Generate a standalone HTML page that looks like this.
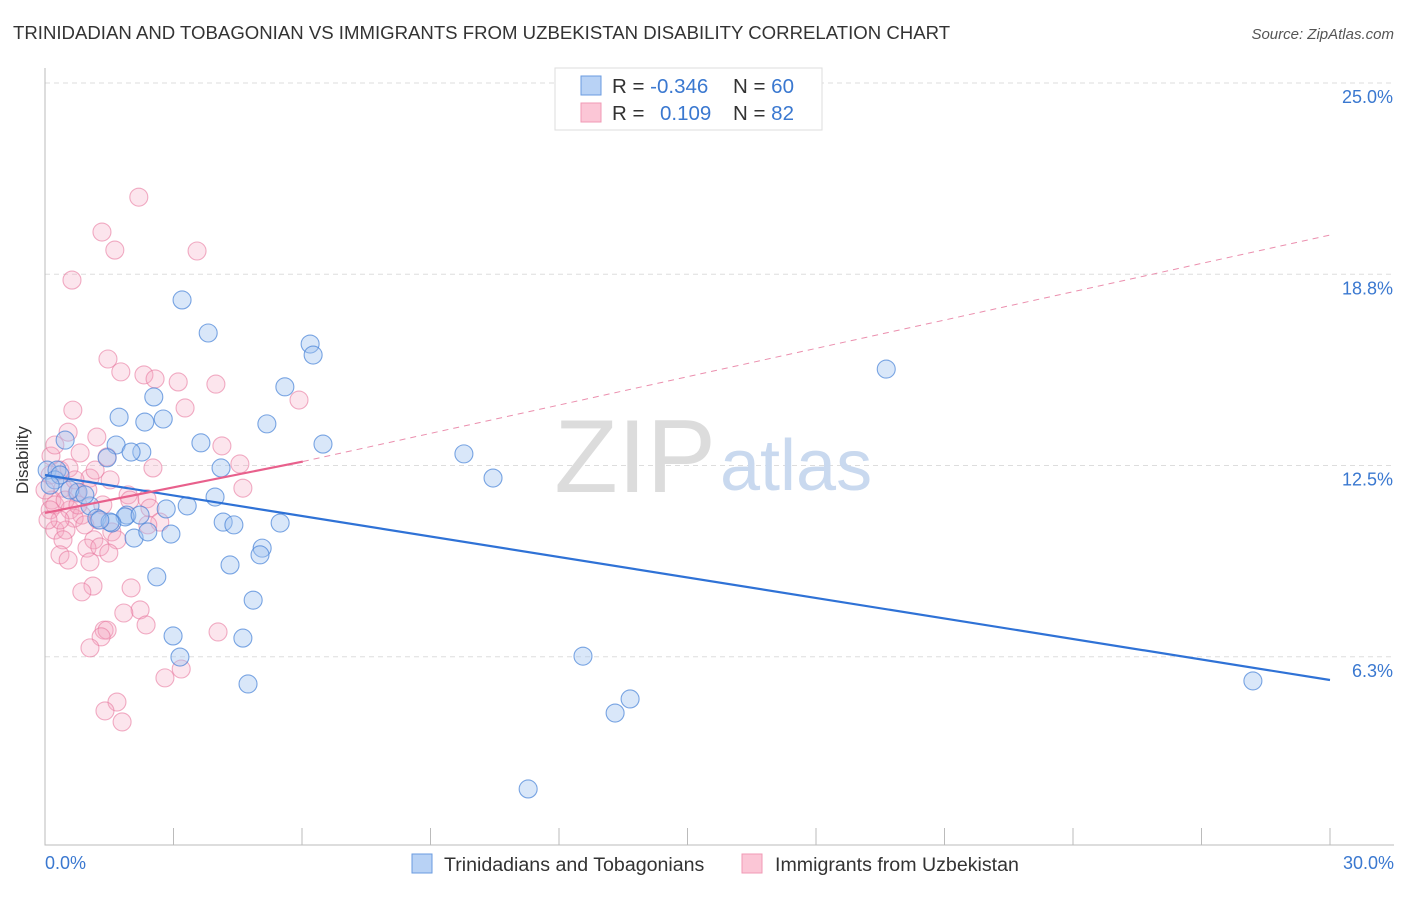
<!DOCTYPE html>
<html><head><meta charset="utf-8"><style>
body{margin:0;background:#fff;font-family:"Liberation Sans",sans-serif}
svg text{font-family:"Liberation Sans",sans-serif}
</style></head><body>
<svg width="1406" height="892" xmlns="http://www.w3.org/2000/svg">
<text x="13" y="39" font-size="18.6" fill="#333">TRINIDADIAN AND TOBAGONIAN VS IMMIGRANTS FROM UZBEKISTAN DISABILITY CORRELATION CHART</text>
<text x="1394" y="39" font-size="15" fill="#555" font-style="italic" text-anchor="end">Source: ZipAtlas.com</text>
<g id="grid"></g>
<text x="716" y="492" font-size="104" fill="#dcdcdc" text-anchor="end" font-family="Liberation Serif">ZIP</text>
<text x="720" y="490" font-size="72" fill="#c9d9ef">atlas</text>
<g id="axes"></g>
<g id="pts"></g>
<g id="lines"></g>
<text x="23" y="455" font-size="17" fill="#333" text-anchor="middle" transform="rotate(-90 28 455)">Disability</text>
<text x="45" y="869" font-size="18" fill="#3a78d0">0.0%</text>
<text x="1394" y="869" font-size="18" fill="#3a78d0" text-anchor="end">30.0%</text>
<g>
<rect x="555" y="68" width="267" height="62" fill="#fff" stroke="#ddd"/>
<rect x="581" y="76" width="20" height="19" fill="#b8d2f5" stroke="#6a9be0"/>
<rect x="581" y="103" width="20" height="19" fill="#fbc6d6" stroke="#f09ab5"/>
<text x="612" y="93" font-size="20.5" fill="#333">R = <tspan fill="#3a78d0">-0.346</tspan><tspan x="733">N = </tspan><tspan fill="#3a78d0">60</tspan></text>
<text x="612" y="120" font-size="20.5" fill="#333">R = <tspan x="660" fill="#3a78d0">0.109</tspan><tspan x="733">N = </tspan><tspan fill="#3a78d0"> 82</tspan></text>
</g>
<g>
<rect x="412" y="854" width="20" height="19" fill="#b8d2f5" stroke="#6a9be0"/>
<text x="444" y="871" font-size="19.6" fill="#333">Trinidadians and Tobagonians</text>
<rect x="742" y="854" width="20" height="19" fill="#fbc6d6" stroke="#f09ab5"/>
<text x="775" y="871" font-size="19.6" fill="#333">Immigrants from Uzbekistan</text>
</g>
</svg>
<script>
const yTicks=[25,18.75,12.5,6.25];
const yTickLabels=["25.0%","18.8%","12.5%","6.3%"];
const xTicks=[0,3,6,9,12,15,18,21,24,27,30];
const blueX=[3.20,3.81,6.19,6.26,19.64,5.60,2.54,1.73,2.33,2.76,5.18,0.47,1.66,2.26,3.64,6.49,1.45,2.01,9.78,4.11,10.46,0.05,0.28,0.23,0.77,1.05,3.97,3.32,2.83,1.21,1.91,1.87,4.16,4.41,5.49,1.56,2.08,2.40,2.94,5.07,5.02,4.32,2.61,4.86,2.99,4.62,3.15,12.56,4.74,13.66,13.31,11.28,28.20,1.52,0.58,0.35,0.93,1.28,2.22,0.12];
const blueY=[17.91,16.83,16.47,16.11,15.65,15.07,14.74,14.08,13.92,14.02,13.86,13.33,13.17,12.94,13.24,13.20,12.75,12.94,12.88,12.42,12.09,12.35,12.35,12.03,11.63,11.18,11.47,11.18,11.08,10.78,10.88,10.82,10.65,10.56,10.62,10.62,10.13,10.33,10.26,9.80,9.58,9.25,8.86,8.10,6.93,6.86,6.24,6.27,5.36,4.87,4.41,1.93,5.46,10.65,11.70,12.19,11.54,10.72,10.88,11.86];
const pinkX=[2.19,1.33,1.63,3.55,0.63,1.47,1.77,2.31,2.57,3.11,3.99,5.93,3.27,0.65,0.54,1.21,4.13,0.82,1.45,0.14,0.35,4.55,2.52,0.56,1.05,4.62,1.94,2.38,0.42,0.75,0.16,1.00,1.35,0.23,0.58,0.86,1.24,2.45,2.68,0.68,0.23,0.49,1.56,1.14,1.68,0.42,0.98,1.28,1.49,0.35,1.05,2.40,1.12,2.01,0.86,2.22,1.84,1.38,1.45,1.31,2.36,4.04,1.05,3.18,2.80,1.68,1.40,1.80,0.12,0.12,0.70,1.17,0.35,0.93,1.98,0.0,0.47,0.77,1.52,0.23,0.07,0.54];
const pinkY=[21.27,20.13,19.54,19.51,18.56,15.98,15.56,15.46,15.33,15.23,15.16,14.64,14.38,14.31,13.59,13.43,13.14,12.91,12.78,12.81,12.35,12.55,12.42,12.42,12.09,11.76,11.54,11.41,11.76,11.60,11.37,11.70,11.21,11.21,11.05,10.88,10.72,11.11,10.65,10.78,10.39,10.39,10.33,10.07,10.07,10.07,9.80,9.84,9.64,9.58,9.35,10.56,8.56,8.50,8.37,7.78,7.68,7.12,7.12,6.90,7.29,7.06,6.54,5.85,5.56,4.77,4.48,4.12,11.05,12.19,12.03,12.35,10.72,10.56,11.37,11.70,11.37,11.21,12.03,13.17,10.72,9.41];
const blueTrend=[[0,12.19],[30,5.49]];
const pinkTrend=[[0,10.95],[6.02,12.63]];
const pinkTrendExt=[[6.02,12.63],[30,20.03]];
const NS="http://www.w3.org/2000/svg";
const X=v=>45+v*(1285/30), Y=v=>83+(25-v)*30.6;
function mk(t,a,p){const e=document.createElementNS(NS,t);for(const k in a)e.setAttribute(k,a[k]);p.appendChild(e);return e;}
const grid=document.getElementById('grid'),axes=document.getElementById('axes'),pts=document.getElementById('pts'),lines=document.getElementById('lines');
yTicks.forEach((t,i)=>{
 const l=mk('line',{x1:45,x2:1394,y1:Y(t),y2:Y(t),stroke:'#ddd','stroke-dasharray':'5,4'},grid);
 
 
 const tx=mk('text',{x:1393,y:Y(t)+20,'font-size':18,fill:'#3a78d0','text-anchor':'end'},axes);
 tx.textContent=yTickLabels[i];
 
 
});
const ax=mk('path',{d:'M45,68V845H1394',stroke:'#bbb',fill:'none'},axes);


xTicks.forEach(t=>{
 const l=mk('line',{x1:X(t),x2:X(t),y1:828,y2:845,stroke:'#bbb'},axes);
 
 
});
function dots(xs,ys,fill,stroke,name){xs.forEach((x,i)=>{
 const c=mk('circle',{cx:X(x),cy:Y(ys[i]),r:9,fill:fill,stroke:stroke,'stroke-width':1.1},pts);
 
 
});}
dots(pinkX,pinkY,'rgba(246,170,196,0.3)','rgba(232,120,158,0.6)','uzbekistan-point');
dots(blueX,blueY,'rgba(160,196,240,0.4)','rgba(70,130,215,0.7)','trinidadian-point');
function ln(p,st,w,dash,name){
 const l=mk('line',{x1:X(p[0][0]),y1:Y(p[0][1]),x2:X(p[1][0]),y2:Y(p[1][1]),stroke:st,'stroke-width':w},lines);
 if(dash)l.setAttribute('stroke-dasharray',dash);
 
 
}
ln(blueTrend,'#2f72d6',2.2,null,'trinidadian-trend-line');
ln(pinkTrend,'#e8608c',2.2,null,'uzbekistan-trend-line');
ln(pinkTrendExt,'#eb8fae',1,'6,5','uzbekistan-trend-extension');
</script>
</body></html>
